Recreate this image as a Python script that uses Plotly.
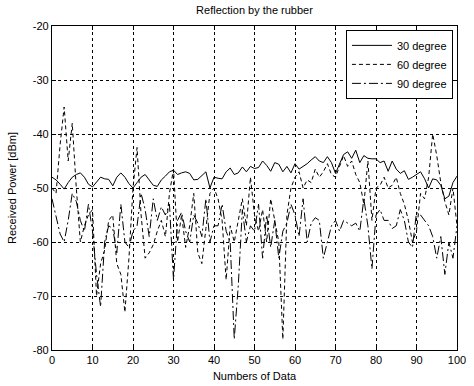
import plotly.graph_objects as go

x_index = list(range(101))

deg30 = [-48.0, -48.5, -49.3, -50.2, -49.0, -48.0, -47.5, -47.2, -48.0, -49.3,
         -49.8, -48.8, -48.0, -48.3, -48.4, -49.6, -48.0, -47.2, -48.0, -49.2,
         -50.0, -49.0, -48.0, -47.5, -48.6, -49.5, -49.7, -48.5, -47.8, -47.0,
         -46.7, -47.5, -47.2, -47.0, -47.3, -48.5, -48.4, -47.6, -47.0, -50.0,
         -48.0, -48.2, -48.3, -47.0, -46.3, -47.5, -47.2, -46.1, -47.0, -46.0,
         -46.4, -46.2, -45.0, -45.8, -46.9, -45.3, -45.6, -47.0, -46.0, -47.2,
         -45.5, -46.5, -46.0, -45.5, -44.8, -44.2, -45.0, -45.3, -44.2, -45.3,
         -47.3, -45.5, -43.8, -43.3, -44.5, -43.0, -45.3, -44.0, -44.5, -44.6,
         -44.6, -45.3, -45.0, -46.9, -45.0, -46.5, -47.3, -46.8, -48.4, -48.0,
         -47.5, -47.0, -48.3, -50.0, -48.3, -48.5, -49.5, -52.0, -51.5, -49.0,
         -47.8]

deg60 = [-50.0, -51.0, -42.0, -35.0, -45.0, -38.0, -50.0, -60.0, -57.0, -55.0,
         -54.0, -70.0, -64.0, -61.5, -56.0, -55.0, -64.0, -66.0, -73.0, -63.0,
         -50.0, -42.5, -55.0, -63.0, -62.0, -60.5, -58.0, -56.0, -59.0, -51.0,
         -46.5, -60.0, -55.0, -61.0, -57.0, -51.0, -62.0, -64.0, -57.5, -51.0,
         -50.0, -52.0, -56.0, -67.0, -57.0, -60.0, -56.0, -52.0, -57.0, -48.0,
         -55.0, -58.0, -54.0, -60.0, -52.0, -56.0, -60.0, -78.0, -55.0, -50.0,
         -48.0, -47.0, -50.0, -48.5, -49.0, -46.5, -48.0, -47.0, -45.5, -47.5,
         -48.0, -46.0, -44.0, -46.0, -45.0, -47.5, -49.0, -53.0, -45.0, -56.0,
         -50.0, -49.5, -48.0, -50.0, -49.5, -48.0, -51.0, -53.0, -56.0, -60.0,
         -58.0, -51.0, -52.0, -48.0, -40.0, -44.0, -49.0, -52.5, -55.0, -50.0,
         -57.0]

deg90 = [-52.0, -55.0, -58.5, -60.0, -56.0, -51.0, -52.5, -56.0, -58.0, -53.0,
         -58.0, -66.0, -72.0, -60.0, -57.0, -57.5, -62.0, -53.0, -60.0, -61.0,
         -58.0, -57.0, -51.0, -54.0, -59.0, -52.0, -56.0, -53.5, -55.0, -53.0,
         -67.0, -56.0, -54.5, -58.0, -60.0, -55.0, -56.5, -59.0, -52.0, -60.0,
         -57.0, -57.0, -53.0, -58.0, -60.0, -78.0, -68.0, -54.0, -60.0, -57.0,
         -58.0, -53.0, -63.0, -55.0, -61.0, -56.0, -63.0, -58.0, -56.5, -53.0,
         -55.0, -59.0, -52.0, -60.0, -56.5, -55.5, -56.0, -63.0, -60.0, -57.0,
         -56.0, -58.0, -56.0, -56.5, -57.0, -56.5, -58.0, -52.0, -57.0, -65.0,
         -55.0, -54.0, -56.0, -56.0, -57.5, -57.0, -54.0, -56.0, -60.0, -61.0,
         -54.5, -55.0, -56.0, -57.0, -59.0, -63.0, -59.0, -66.0, -60.0, -63.0,
         -57.0]

x_ticks = [0, 10, 20, 30, 40, 50, 60, 70, 80, 90, 100]
y_ticks = [-80, -70, -60, -50, -40, -30, -20]

FONT = "Liberation Sans, Arial, sans-serif"

fig = go.Figure()
fig.add_trace(go.Scatter(x=x_index, y=deg30, mode="lines", name="30 degree",
                         line=dict(color="black", width=1, dash="solid")))
fig.add_trace(go.Scatter(x=x_index, y=deg60, mode="lines", name="60 degree",
                         line=dict(color="black", width=1, dash="4px,3px")))
fig.add_trace(go.Scatter(x=x_index, y=deg90, mode="lines", name="90 degree",
                         line=dict(color="black", width=1, dash="9px,3px,2px,3px")))

axis_common = dict(
    showline=True, linecolor="black", linewidth=1.3, mirror="ticks",
    ticks="inside", ticklen=4, tickcolor="black",
    showgrid=True, gridcolor="black", gridwidth=1, griddash="3px,3px",
    zeroline=False, automargin=False,
    tickfont=dict(family=FONT, size=11, color="black"),
)

fig.update_xaxes(range=[0, 100], tickvals=x_ticks, ticktext=[str(v) for v in x_ticks],
                 title=dict(text="Numbers of Data", font=dict(family=FONT, size=11, color="black"),
                            standoff=6),
                 **axis_common)
fig.update_yaxes(range=[-80, -20], tickvals=y_ticks, ticktext=[str(v) for v in y_ticks],
                 title=dict(text="Received Power [dBm]", font=dict(family=FONT, size=11, color="black"),
                            standoff=13),
                 **axis_common)

fig.update_layout(
    width=474, height=386,
    margin=dict(l=52, r=17, t=26, b=36),
    paper_bgcolor="white", plot_bgcolor="white",
    title=dict(text="Reflection by the rubber", x=0.5, xref="paper",
               y=1 - 10 / 386, yref="container", yanchor="middle",
               font=dict(family=FONT, size=11, color="black")),
    legend=dict(x=0.99, y=0.988, xanchor="right", yanchor="top",
                bgcolor="white", bordercolor="black", borderwidth=1,
                font=dict(family=FONT, size=11, color="black"),
                tracegroupgap=0, itemwidth=40),
    showlegend=True,
)

fig.write_html("out.html")
